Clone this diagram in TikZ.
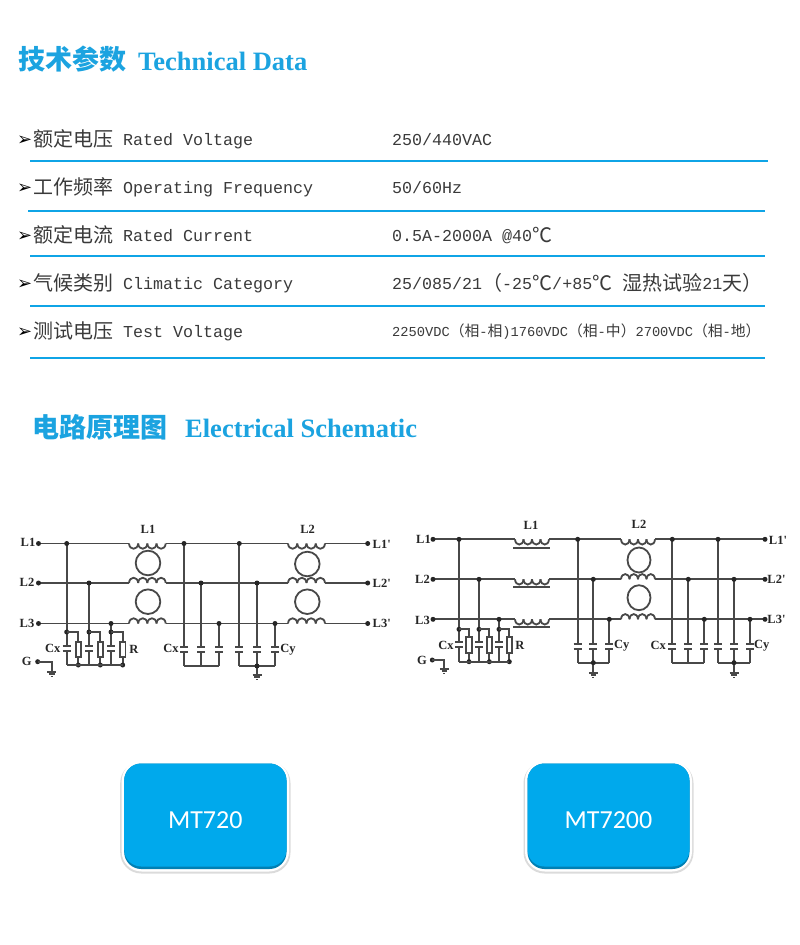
\documentclass[tikz,border=0pt]{standalone}
\usepackage{fontspec}
\setmainfont{Liberation Serif}
\setmonofont{Liberation Mono}
\setsansfont{Carlito}
\newfontfamily\cjk{Noto Sans CJK SC}
\newfontfamily\dingf{DejaVu Sans}
\newfontfamily\schem{Liberation Serif}
\definecolor{titleblue}{HTML}{1BA3E0}
\definecolor{rule}{HTML}{0FA4E6}
\definecolor{body}{HTML}{3A3A3A}
\definecolor{wire}{HTML}{484848}
\definecolor{btn}{HTML}{00A9EC}
\definecolor{btndark}{HTML}{0080B4}
\newcommand\cj[1]{\raisebox{-1pt}{\cjk\fontsize{20}{20}\selectfont #1}}
\newcommand\cjs[1]{{\cjk\fontsize{14.8}{14.8}\selectfont #1}}
\newcommand\arw{{\dingf\fontsize{18}{18}\selectfont ➢}}
\tikzset{
 rowtext/.style={anchor=base west,inner sep=0pt,text=body,font=\ttfamily\fontsize{16.67}{20}\selectfont},
 smalltext/.style={anchor=base west,inner sep=0pt,text=body,font=\ttfamily\fontsize{13.7}{16}\selectfont},
 arrowmark/.style={anchor=base west,inner sep=0pt,text=black},
 titlecn/.style={anchor=base west,inner sep=0pt,text=titleblue,font=\cjk\bfseries\fontsize{27}{27}\selectfont},
 titleen/.style={anchor=base west,inner sep=0pt,text=titleblue,font=\rmfamily\bfseries\fontsize{26.5}{27}\selectfont},
 rowrule/.style={draw=rule,line width=2pt},
 wireline/.style={draw=wire,line width=1.8pt},
 lab/.style={inner sep=0pt,text=black!85,font=\schem\bfseries\fontsize{12.5}{12.5}\selectfont},
 button/.style={inner sep=0pt,text=white,font=\sffamily\fontsize{26}{26}\selectfont},
}
% connection dot
\newcommand\jn[2]{\fill[black!85] (#1,#2) circle (2.5);}
% coil: x1,x2,y,sign (-1 bumps up, 1 bumps down)
\newcommand\coil[4]{%
 \foreach \i in {0,1,2,3}{%
  \draw[wireline] ({#1+\i*(#2-#1)/4},#3) .. controls ({#1+(\i+.05)*(#2-#1)/4},{#3+#4*7}) and ({#1+(\i+.95)*(#2-#1)/4},{#3+#4*7}) .. ({#1+(\i+1)*(#2-#1)/4},#3);}}
% capacitor branch: x, ytop, plate1, plate2, ybottom
\newcommand\capb[5]{%
 \draw[wireline] (#1,#2) -- (#1,#3) (#1,#4) -- (#1,#5);
 \draw[wireline] ({#1-4},#3) -- ({#1+4},#3) ({#1-4},#4) -- ({#1+4},#4);}
% input cap + resistor cell: xcap, xres, ytop, plate1, plate2, rtop, rbot, ybot
\newcommand\cell[8]{%
 \capb{#1}{#3}{#4}{#5}{#8}
 \jn{#1}{#3}
 \draw[wireline] (#1,#3) -- (#2,#3) -- (#2,#6) (#2,#7) -- (#2,#8);
 \draw[wireline,fill=white] ({#2-2.7},#6) rectangle ({#2+2.7},#7);
 \jn{#2}{#8}}
\newcommand\gnd[2]{%
 \draw[wireline] ({#1-4.5},#2) -- ({#1+4.5},#2);
 \draw[wireline] ({#1-2.8},{#2+2.2}) -- ({#1+2.8},{#2+2.2});
 \draw[wireline] ({#1-1},{#2+4.4}) -- ({#1+1},{#2+4.4});}
\newcommand\button[4]{%
 \fill[black,opacity=.14,rounded corners=21pt] ({#1-1.5},{#2+1}) rectangle ({#3+1.5},{#4+2});
 \fill[white,rounded corners=20pt] (#1,#2) rectangle (#3,#4);
 \fill[btndark,rounded corners=17pt] ({#1+2.5},{#2+2.5}) rectangle ({#3-2.5},{#4-2.5});
 \fill[btn,rounded corners=17pt] ({#1+2.5},{#2+2.5}) rectangle ({#3-2.5},{#4-5});}
\begin{document}
\begin{tikzpicture}[x=1pt,y=-1pt]
\useasboundingbox (0,0) rectangle (800,945);
\fill[white] (0,0) rectangle (800,945);
% titles
\node[titlecn] (t1cn) at (18,69) {技术参数};
\node[titleen] (t1en) at (138,70) {Technical Data};
\node[titlecn] (t2cn) at (32.5,437) {电路原理图};
\node[titleen] (t2en) at (185,437) {Electrical Schematic};
% rows
\node[arrowmark] (a1) at (17,145.5) {\arw};
\node[arrowmark] (a2) at (17,193.5) {\arw};
\node[arrowmark] (a3) at (17,241.5) {\arw};
\node[arrowmark] (a4) at (17,289.5) {\arw};
\node[arrowmark] (a5) at (17,337.5) {\arw};
\node[rowtext] (r1) at (33,145) {\cj{额定电压} Rated Voltage};
\node[rowtext] (r2) at (33,193) {\cj{工作频率} Operating Frequency};
\node[rowtext] (r3) at (33,241) {\cj{额定电流} Rated Current};
\node[rowtext] (r4) at (33,289) {\cj{气候类别} Climatic Category};
\node[rowtext] (r5) at (33,337) {\cj{测试电压} Test Voltage};
\node[rowtext] (v1) at (392,145) {250/440VAC};
\node[rowtext] (v2) at (392,193) {50/60Hz};
\node[rowtext] (v3) at (392,241) {0.5A-2000A @40\cj{℃}};
\node[rowtext] (v4) at (392,289) {25/085/21\cj{（}-25\cj{℃}/+85\cj{℃} \cj{湿热试验}21\cj{天）}};
\node[smalltext] (v5) at (392,336.5) {2250VDC\cjs{（相}-\cjs{相})1760VDC\cjs{（相}-\cjs{中）}2700VDC\cjs{（相}-\cjs{地）}};
\draw[rowrule] (30,161) -- (768,161);
\draw[rowrule] (28,211) -- (765,211);
\draw[rowrule] (30,255.5) -- (765,255.5);
\draw[rowrule] (30,306) -- (765,306);
\draw[rowrule] (30,357.5) -- (765,357.5);

% ---------- left schematic ----------
\draw[wireline] (38.5,543.5) -- (129,543.5) (165.7,543.5) -- (288,543.5) (325,543.5) -- (367.7,543.5);
\draw[wireline] (38.5,583) -- (129,583) (165.7,583) -- (288,583) (325,583) -- (367.7,583);
\draw[wireline] (38.5,623.5) -- (129,623.5) (165.7,623.5) -- (288,623.5) (325,623.5) -- (367.7,623.5);
\foreach \y in {543.5,583,623.5}{\jn{38.5}{\y}\jn{367.7}{\y}}
\coil{129}{165.7}{543.5}{1}
\coil{129}{165.7}{583}{-1}
\coil{129}{165.7}{623.5}{-1}
\coil{288}{325}{543.5}{1}
\coil{288}{325}{583}{-1}
\coil{288}{325}{623.5}{-1}
\draw[wireline] (148,563) circle (12.3);
\draw[wireline] (148,601.7) circle (12.3);
\draw[wireline] (307.3,564) circle (12.3);
\draw[wireline] (307.3,601.7) circle (12.3);
\draw[wireline] (66.7,543.5) -- (66.7,632) (89,583) -- (89,632) (111,623.5) -- (111,632);
\jn{66.7}{543.5}\jn{89}{583}\jn{111}{623.5}
\cell{66.7}{78.3}{632}{646}{651}{641.7}{656.7}{665}
\cell{89}{100.3}{632}{646}{651}{641.7}{656.7}{665}
\cell{111}{122.7}{632}{646}{651}{641.7}{656.7}{665}
\draw[wireline] (66.7,665) -- (122.7,665);
\capb{184}{543.5}{646.7}{651.7}{666}
\capb{201}{583}{646.7}{651.7}{666}
\capb{219}{623.5}{646.7}{651.7}{666}
\draw[wireline] (184,666) -- (219,666);
\jn{184}{543.5}\jn{201}{583}\jn{219}{623.5}
\capb{239.3}{543.5}{646.7}{651.7}{666}
\capb{257}{583}{646.7}{651.7}{666}
\capb{275}{623.5}{646.7}{651.7}{666}
\draw[wireline] (239.3,666) -- (275,666) (257,666) -- (257,675);
\jn{239.3}{543.5}\jn{257}{583}\jn{275}{623.5}\jn{257}{666}
\gnd{257}{675}
\jn{37.7}{661.7}
\draw[wireline] (37.7,661.7) -- (51.7,661.7) -- (51.7,672);
\gnd{51.7}{672}
\node[lab] (l1) at (28,542) {L1};
\node[lab] (l2) at (27,582.5) {L2};
\node[lab] (l3) at (27,623) {L3};
\node[lab] (lp1) at (381.7,544) {L1'};
\node[lab] (lp2) at (381.7,583) {L2'};
\node[lab] (lp3) at (381.7,623) {L3'};
\node[lab] (lc1) at (148,529) {L1};
\node[lab] (lc2) at (307.7,529) {L2};
\node[lab] (lg) at (26.7,661.7) {G};
\node[lab] (lcx1) at (52.7,648.5) {Cx};
\node[lab] (lr) at (134,649) {R};
\node[lab] (lcx2) at (171,648.5) {Cx};
\node[lab] (lcy) at (288,650) {Cy};

% ---------- right schematic ----------
\draw[wireline] (433,539.3) -- (515,539.3) (549,539.3) -- (621,539.3) (655,539.3) -- (765,539.3);
\draw[wireline] (433,579.3) -- (515,579.3) (549,579.3) -- (621,579.3) (655,579.3) -- (765,579.3);
\draw[wireline] (433,619.3) -- (515,619.3) (549,619.3) -- (621,619.3) (655,619.3) -- (765,619.3);
\foreach \y in {539.3,579.3,619.3}{\jn{433}{\y}\jn{765}{\y}}
\coil{515}{549}{539.3}{1}
\coil{515}{549}{579.3}{1}
\coil{515}{549}{619.3}{1}
\draw[wireline] (513,548.3) -- (550,548.3) (513,587.3) -- (550,587.3) (513,627.3) -- (550,627.3);
\coil{621}{655}{539.3}{1}
\coil{621}{655}{579.3}{-1}
\coil{621}{655}{619.3}{-1}
\draw[wireline] (639,560) ellipse (11.5 and 12.5);
\draw[wireline] (639,597.7) ellipse (11.5 and 12.5);
\draw[wireline] (459,539.3) -- (459,629.3) (479,579.3) -- (479,629.3) (499,619.3) -- (499,629.3);
\jn{459}{539.3}\jn{479}{579.3}\jn{499}{619.3}
\cell{459}{469}{629.3}{642.3}{647.3}{637.3}{653.3}{661.7}
\cell{479}{489.3}{629.3}{642.3}{647.3}{637.3}{653.3}{661.7}
\cell{499}{509.3}{629.3}{642.3}{647.3}{637.3}{653.3}{661.7}
\draw[wireline] (459,661.7) -- (509.3,661.7);
\capb{577.7}{539.3}{644.3}{649.3}{662.7}
\capb{593.3}{579.3}{644.3}{649.3}{662.7}
\capb{609.3}{619.3}{644.3}{649.3}{662.7}
\draw[wireline] (577.7,662.7) -- (609.3,662.7) (593.3,662.7) -- (593.3,673);
\jn{577.7}{539.3}\jn{593.3}{579.3}\jn{609.3}{619.3}\jn{593.3}{662.7}
\gnd{593.3}{673}
\capb{672.3}{539.3}{644.3}{649.3}{662.7}
\capb{688.3}{579.3}{644.3}{649.3}{662.7}
\capb{704.3}{619.3}{644.3}{649.3}{662.7}
\draw[wireline] (672.3,662.7) -- (704.3,662.7);
\jn{672.3}{539.3}\jn{688.3}{579.3}\jn{704.3}{619.3}
\capb{718}{539.3}{644.3}{649.3}{662.7}
\capb{734}{579.3}{644.3}{649.3}{662.7}
\capb{750}{619.3}{644.3}{649.3}{662.7}
\draw[wireline] (718,662.7) -- (750,662.7) (734,662.7) -- (734,673);
\jn{718}{539.3}\jn{734}{579.3}\jn{750}{619.3}\jn{734}{662.7}
\gnd{734}{673}
\jn{432.3}{660}
\draw[wireline] (432.3,660) -- (444.3,660) -- (444.3,669);
\gnd{444.3}{669}
\node[lab] (rl1) at (423.5,539.5) {L1};
\node[lab] (rl2) at (422.5,579.5) {L2};
\node[lab] (rl3) at (422.5,620) {L3};
\node[lab] (rlp1) at (778,540) {L1'};
\node[lab] (rlp2) at (776.5,579.5) {L2'};
\node[lab] (rlp3) at (776.5,619.5) {L3'};
\node[lab] (rlc1) at (531,525) {L1};
\node[lab] (rlc2) at (639,524.5) {L2};
\node[lab] (rlg) at (422,660) {G};
\node[lab] (rlcx1) at (446,645) {Cx};
\node[lab] (rlr) at (520,645) {R};
\node[lab] (rlcy1) at (621.7,646) {Cy};
\node[lab] (rlcx2) at (658.3,645) {Cx};
\node[lab] (rlcy2) at (761.7,646) {Cy};

% ---------- buttons ----------
\button{121.7}{761}{289}{871.5}
\node[button] (b1) at (205.3,820) {MT720};
\button{525}{761}{692}{871.5}
\node[button] (b2) at (608.5,820) {MT7200};
\end{tikzpicture}
\end{document}
